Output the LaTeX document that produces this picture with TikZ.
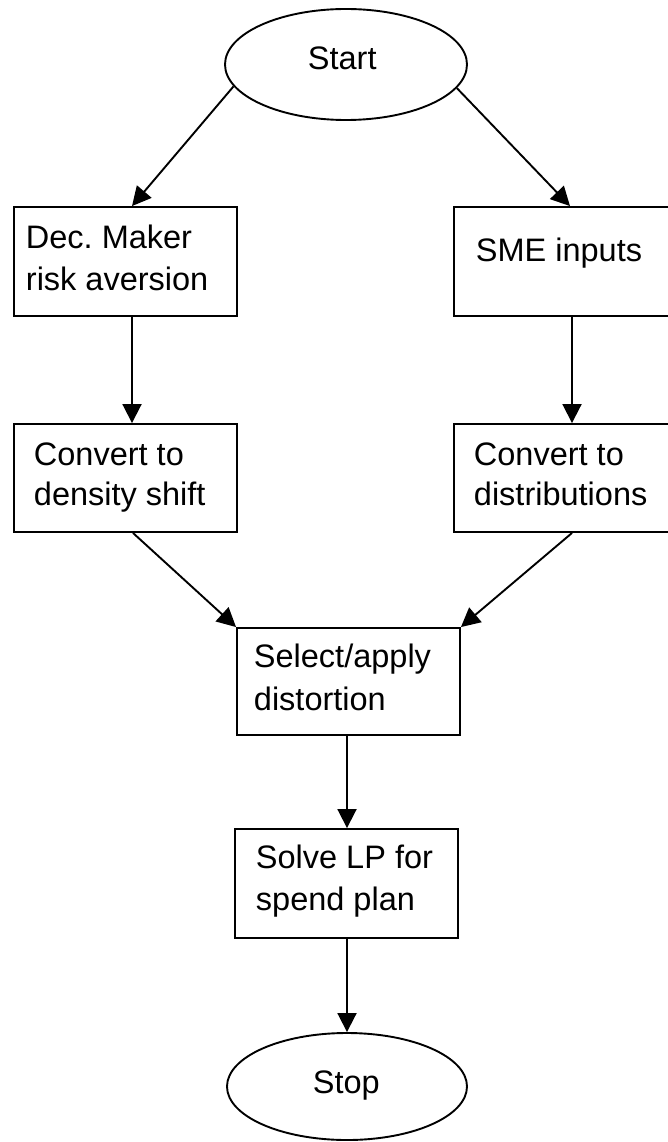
\documentclass[tikz,border=0pt]{standalone}
\usepackage{fontspec}
\setmainfont{Liberation Sans}
\usetikzlibrary{arrows.meta,shapes.geometric}
\frenchspacing
\begin{document}
\begin{tikzpicture}[x=1pt,y=-1pt,line width=1.9pt,
  stepbox/.style={draw=black,rectangle,inner sep=0pt,minimum width=223pt,minimum height=108pt},
  term/.style={draw=black,ellipse,inner sep=0pt},
  txt/.style={anchor=base west,inner sep=0pt,font=\fontsize{32.5pt}{42pt}\selectfont},
  arr/.style={-{Triangle[length=19pt,width=19pt]},line width=1.9pt}]
\useasboundingbox (0,0) rectangle (668,1142);
\clip (0,0) rectangle (668,1142);
\fill[white] (0,0) rectangle (668,1142);
% shapes
\node[term,minimum width=242pt,minimum height=111pt] (start) at (346,64.5) {};
\node[stepbox,minimum height=109pt] (b1) at (125.5,261.5) {};
\node[stepbox,minimum width=224pt,minimum height=109pt] (b2) at (566,261.5) {};
\node[stepbox] (b3) at (125.5,478) {};
\node[stepbox,minimum width=224pt] (b4) at (566,478) {};
\node[stepbox,minimum height=107pt] (b5) at (348.5,681.5) {};
\node[stepbox,minimum height=109pt] (b6) at (346.5,883.5) {};
\node[term,minimum width=240pt,minimum height=107pt] (stop) at (347,1086.5) {};
% texts
\node[txt] (tstart) at (307,70) {Start};
\node[txt] (t1a) at (25,248) {Dec.\ Maker};
\node[txt] (t1b) at (25,290) {risk aversion};
\node[txt] (t2) at (475,261) {SME inputs};
\node[txt] (t3a) at (33,465) {Convert to};
\node[txt] (t3b) at (33,505) {density shift};
\node[txt] (t4a) at (473,465) {Convert to};
\node[txt] (t4b) at (473,505) {distributions};
\node[txt] (t5a) at (253,667) {Select/apply};
\node[txt] (t5b) at (253,710) {distortion};
\node[txt] (t6a) at (255,868) {Solve LP for};
\node[txt] (t6b) at (255,910) {spend plan};
\node[txt] (tstop) at (312,1093) {Stop};
% connectors
\draw[arr] (start.191) -- ([xshift=6.5pt]b1.north);
\draw[arr] (start.348) -- ([xshift=4pt]b2.north);
\draw[arr] ([xshift=6.5pt]b1.south) -- ([xshift=6.5pt]b3.north);
\draw[arr] ([xshift=6pt]b2.south) -- ([xshift=6pt]b4.north);
\draw[arr] ([xshift=7.5pt]b3.south) -- (b5.north west);
\draw[arr] ([xshift=6pt]b4.south) -- (b5.north east);
\draw[arr] ([xshift=-1.5pt]b5.south) -- ([xshift=-1.5pt]b5.south |- b6.north);
\draw[arr] ([xshift=0.5pt]b6.south) -- ([xshift=0.5pt]b6.south |- stop.north);
\end{tikzpicture}
\end{document}
